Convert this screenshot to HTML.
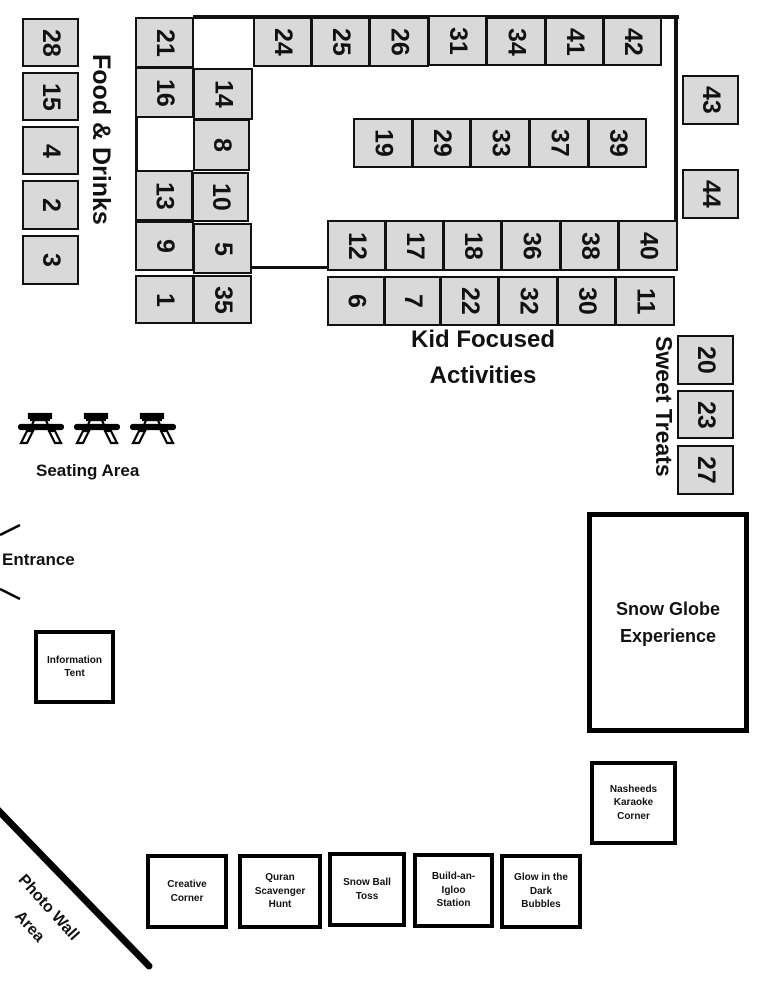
<!DOCTYPE html>
<html><head><meta charset="utf-8"><style>
html,body{margin:0;padding:0;background:#fff;}
body{width:772px;height:1005px;position:relative;overflow:hidden;font-family:"Liberation Sans",sans-serif;color:#111;}
.b{position:absolute;box-sizing:border-box;background:#d9d9d9;border:2.5px solid #111;display:flex;align-items:center;justify-content:center;}
.b span{writing-mode:vertical-rl;font-weight:bold;font-size:25px;line-height:1;}
.w{position:absolute;box-sizing:border-box;background:#fff;border:4px solid #000;display:flex;align-items:center;justify-content:center;text-align:center;font-weight:bold;font-size:10px;line-height:1.35;}
.ln{position:absolute;background:#111;}
.t{position:absolute;font-weight:bold;white-space:nowrap;}
</style></head><body>

<div class="ln" style="left:193px;top:15px;width:486px;height:4px"></div>
<div class="ln" style="left:674px;top:15px;width:4px;height:256px"></div>
<div class="ln" style="left:135px;top:117px;width:3px;height:54px"></div>
<div class="ln" style="left:249px;top:266px;width:80px;height:3px"></div>

<div class="b" style="left:22px;top:18px;width:57px;height:49px"><span>28</span></div>
<div class="b" style="left:22px;top:72px;width:57px;height:49px"><span>15</span></div>
<div class="b" style="left:22px;top:126px;width:57px;height:49px"><span>4</span></div>
<div class="b" style="left:22px;top:180px;width:57px;height:50px"><span>2</span></div>
<div class="b" style="left:22px;top:235px;width:57px;height:50px"><span>3</span></div>
<div class="t" style="left:86px;top:54px;writing-mode:vertical-rl;font-size:25px;">Food &amp; Drinks</div>

<div class="b" style="left:135px;top:17px;width:59px;height:51px"><span>21</span></div>
<div class="b" style="left:253px;top:17px;width:59px;height:50px"><span>24</span></div>
<div class="b" style="left:311px;top:17px;width:59px;height:50px"><span>25</span></div>
<div class="b" style="left:369px;top:17px;width:60px;height:50px"><span>26</span></div>
<div class="b" style="left:428px;top:15px;width:59px;height:51px"><span>31</span></div>
<div class="b" style="left:486px;top:17px;width:60px;height:49px"><span>34</span></div>
<div class="b" style="left:545px;top:17px;width:59px;height:49px"><span>41</span></div>
<div class="b" style="left:603px;top:17px;width:59px;height:49px"><span>42</span></div>

<div class="b" style="left:135px;top:67px;width:59px;height:51px"><span>16</span></div>
<div class="b" style="left:193px;top:68px;width:60px;height:52px"><span>14</span></div>
<div class="b" style="left:193px;top:119px;width:57px;height:52px"><span>8</span></div>
<div class="b" style="left:135px;top:170px;width:58px;height:51px"><span>13</span></div>
<div class="b" style="left:192px;top:172px;width:57px;height:50px"><span>10</span></div>
<div class="b" style="left:135px;top:221px;width:59px;height:50px"><span>9</span></div>
<div class="b" style="left:193px;top:223px;width:59px;height:51px"><span>5</span></div>
<div class="b" style="left:135px;top:275px;width:59px;height:49px"><span>1</span></div>
<div class="b" style="left:193px;top:275px;width:59px;height:49px"><span>35</span></div>

<div class="b" style="left:353px;top:118px;width:60px;height:50px"><span>19</span></div>
<div class="b" style="left:412px;top:118px;width:59px;height:50px"><span>29</span></div>
<div class="b" style="left:470px;top:118px;width:60px;height:50px"><span>33</span></div>
<div class="b" style="left:529px;top:118px;width:60px;height:50px"><span>37</span></div>
<div class="b" style="left:588px;top:118px;width:59px;height:50px"><span>39</span></div>

<div class="b" style="left:327px;top:220px;width:59px;height:51px"><span>12</span></div>
<div class="b" style="left:385px;top:220px;width:59px;height:51px"><span>17</span></div>
<div class="b" style="left:443px;top:220px;width:59px;height:51px"><span>18</span></div>
<div class="b" style="left:501px;top:220px;width:60px;height:51px"><span>36</span></div>
<div class="b" style="left:560px;top:220px;width:59px;height:51px"><span>38</span></div>
<div class="b" style="left:618px;top:220px;width:60px;height:51px"><span>40</span></div>

<div class="b" style="left:327px;top:276px;width:58px;height:50px"><span>6</span></div>
<div class="b" style="left:384px;top:276px;width:57px;height:50px"><span>7</span></div>
<div class="b" style="left:440px;top:276px;width:59px;height:50px"><span>22</span></div>
<div class="b" style="left:498px;top:276px;width:60px;height:50px"><span>32</span></div>
<div class="b" style="left:557px;top:276px;width:59px;height:50px"><span>30</span></div>
<div class="b" style="left:615px;top:276px;width:60px;height:50px"><span>11</span></div>

<div class="b" style="left:682px;top:75px;width:57px;height:50px"><span>43</span></div>
<div class="b" style="left:682px;top:169px;width:57px;height:50px"><span>44</span></div>

<div class="t" style="left:383px;top:322px;width:200px;text-align:center;font-size:24px;line-height:36px;">Kid Focused<br>Activities</div>

<div class="t" style="left:650px;top:336px;writing-mode:vertical-rl;font-size:23px;">Sweet Treats</div>
<div class="b" style="left:677px;top:335px;width:57px;height:50px"><span>20</span></div>
<div class="b" style="left:677px;top:390px;width:57px;height:49px"><span>23</span></div>
<div class="b" style="left:677px;top:445px;width:57px;height:50px"><span>27</span></div>

<svg style="position:absolute;left:0;top:400px" width="200" height="60">
<g fill="none" stroke="#000" stroke-width="2.2">
<g id="tb">
<rect x="29" y="14" width="22" height="4" fill="#000"/>
<rect x="19" y="25" width="44" height="4" fill="#000" rx="2"/>
<line x1="30" y1="20" x2="50" y2="20"/>
<polygon points="27,31 21,43 27,43 33,31" fill="#fff"/>
<polygon points="55,31 61,43 55,43 49,31" fill="#fff"/>
<line x1="35" y1="18" x2="32" y2="25"/><line x1="45" y1="18" x2="48" y2="25"/>
</g>
<use href="#tb" x="56"/><use href="#tb" x="112"/>
</g>
</svg>
<div class="t" style="left:36px;top:461px;font-size:17px;">Seating Area</div>

<svg style="position:absolute;left:0;top:520px" width="30" height="90">
<line x1="0" y1="15" x2="20" y2="5" stroke="#000" stroke-width="2.5"/>
<line x1="0" y1="69" x2="20" y2="79" stroke="#000" stroke-width="2.5"/>
</svg>
<div class="t" style="left:2px;top:550px;font-size:17px;">Entrance</div>

<div class="w" style="left:34px;top:630px;width:81px;height:74px;">Information<br>Tent</div>

<div class="w" style="left:587px;top:512px;width:162px;height:221px;border-width:5px;font-size:18px;line-height:27px;">Snow Globe<br>Experience</div>

<div class="w" style="left:590px;top:761px;width:87px;height:84px;">Nasheeds<br>Karaoke<br>Corner</div>

<div class="w" style="left:146px;top:854px;width:82px;height:75px;">Creative<br>Corner</div>
<div class="w" style="left:238px;top:854px;width:84px;height:75px;">Quran<br>Scavenger<br>Hunt</div>
<div class="w" style="left:328px;top:852px;width:78px;height:75px;">Snow Ball<br>Toss</div>
<div class="w" style="left:413px;top:853px;width:81px;height:75px;">Build-an-<br>Igloo<br>Station</div>
<div class="w" style="left:500px;top:854px;width:82px;height:75px;">Glow in the<br>Dark<br>Bubbles</div>

<svg style="position:absolute;left:0;top:800px" width="170" height="180">
<line x1="-4" y1="8" x2="149" y2="166" stroke="#000" stroke-width="7" stroke-linecap="round"/>
</svg>
<div class="t" style="left:-2px;top:898px;width:100px;text-align:center;font-size:16px;line-height:20px;transform:rotate(48deg);">Photo Wall</div>
<div class="t" style="left:-1px;top:917px;width:60px;text-align:center;font-size:16px;line-height:20px;transform:rotate(48deg);">Area</div>

</body></html>
